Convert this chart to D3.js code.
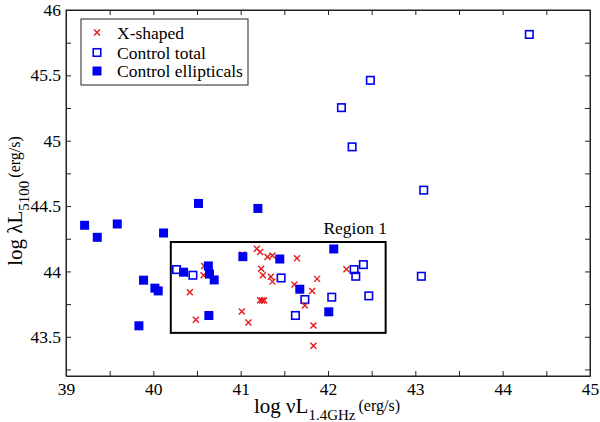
<!DOCTYPE html>
<html>
<head>
<meta charset="utf-8">
<script src="https://cdn.jsdelivr.net/npm/d3@7"></script>
<style>
  body { margin: 0; background: #fff; }
  svg text { font-family: "Liberation Serif", "DejaVu Serif", serif; fill: #000; }
</style>
</head>
<body>
<div class="scatter"></div>
<script>
// data
var xshapedX = [41.02, 41.185, 41.223, 41.307, 41.364, 41.645, 41.235, 41.254, 41.345, 41.364,
                41.616, 40.582, 40.575, 40.418, 40.487, 41.013, 41.089, 41.223, 41.246, 41.269,
                41.875, 41.818, 41.735, 42.211, 41.833, 41.833];
var xshapedY = [44.13, 44.174, 44.149, 44.111, 44.121, 44.10, 44.021, 43.971, 43.96, 43.922,
                43.90, 44.042, 43.971, 43.841, 43.63, 43.693, 43.609, 43.78, 43.777, 43.777,
                43.943, 43.851, 43.739, 44.017, 43.586, 43.431];

var totalX = [40.266, 40.453, 41.463, 41.627, 41.735, 42.043, 42.299, 42.405, 42.318, 42.467,
              43.069, 44.305, 42.485, 42.154, 42.276, 43.096];
var totalY = [44.014, 43.971, 43.95, 43.663, 43.785, 43.803, 44.014, 44.052, 43.963, 43.813,
              43.963, 45.813, 45.462, 45.253, 44.953, 44.622];

var ellX = [39.213, 39.358, 39.587, 40.517, 41.197, 40.117, 39.888, 40.018, 40.056, 39.835,
            40.346, 40.63, 40.643, 40.697, 40.636, 41.025, 41.448, 42.066, 41.677, 42.009];
var ellY = [44.353, 44.261, 44.363, 44.52, 44.482, 44.294, 43.933, 43.872, 43.851, 43.584,
            43.994, 44.042, 43.98, 43.935, 43.663, 44.113, 44.095, 44.172, 43.864, 43.691];

var xTicks = [39, 39.5, 40, 40.5, 41, 41.5, 42, 42.5, 43, 43.5, 44, 44.5, 45];
var yTicks = [43.25, 43.5, 43.75, 44, 44.25, 44.5, 44.75, 45, 45.25, 45.5, 45.75, 46];
var region = {x0: 40.2, x1: 42.66, y0: 43.53, y1: 44.225, label: "Region 1"};
var legendLabels = ["X-shaped", "Control total", "Control ellipticals"];

var margin = {top: 10, right: 10, bottom: 46, left: 66},
    width = 600 - margin.left - margin.right,
    height = 422 - margin.top - margin.bottom;

var svg = d3.select(".scatter")
  .append("svg")
  .attr("width", 600)
  .attr("height", 422)
  .append("g")
  .attr("transform", "translate(" + margin.left + "," + margin.top + ")");

var x = d3.scaleLinear().domain([39, 45]).range([0, width]);
var y = d3.scaleLinear().domain([43.2, 46]).range([height, 0]);

var blue = "#0000f0", red = "#e41a1c";

function labelX(d) { return d % 1 === 0 ? d : ""; }
function labelY(d) { return (d * 2) % 1 === 0 ? d : ""; }

// axes, ticks pointing inwards on all four sides
svg.append("g")
  .attr("transform", "translate(0," + height + ")")
  .call(d3.axisBottom(x).tickValues(xTicks).tickSizeInner(-5).tickSizeOuter(0).tickPadding(7).tickFormat(labelX));
svg.append("g")
  .call(d3.axisTop(x).tickValues(xTicks).tickSizeInner(-5).tickSizeOuter(0).tickFormat(""));
svg.append("g")
  .call(d3.axisLeft(y).tickValues(yTicks).tickSizeInner(-5).tickSizeOuter(0).tickPadding(5).tickFormat(labelY));
svg.append("g")
  .attr("transform", "translate(" + width + ",0)")
  .call(d3.axisRight(y).tickValues(yTicks).tickSizeInner(-5).tickSizeOuter(0).tickFormat(""));

svg.selectAll(".domain").attr("stroke", "#222");
svg.selectAll(".tick line").attr("stroke", "#222");
svg.selectAll(".tick text").attr("font-size", "17.5px");

// frame
svg.append("rect")
  .attr("width", width).attr("height", height)
  .attr("fill", "none").attr("stroke", "#222").attr("stroke-width", 1);

// region 1 box
svg.append("rect")
  .attr("x", x(region.x0)).attr("y", y(region.y1))
  .attr("width", x(region.x1) - x(region.x0))
  .attr("height", y(region.y0) - y(region.y1))
  .attr("fill", "none").attr("stroke", "#000").attr("stroke-width", 2);
svg.append("text")
  .attr("x", (x(region.x0) + x(region.x1)) / 2 + 77)
  .attr("y", y(region.y1) - 8)
  .attr("text-anchor", "middle")
  .attr("font-size", "17.5px")
  .text(region.label);

// control total (open squares)
var s = 7.5;
svg.selectAll("rect.total")
  .data(totalX)
  .enter()
  .append("rect")
  .attr("class", "total")
  .attr("x", function(d) { return x(d) - s / 2; })
  .attr("y", function(d, i) { return y(totalY[i]) - s / 2; })
  .attr("width", s).attr("height", s)
  .attr("fill", "none").attr("stroke", blue).attr("stroke-width", 1.6);

// x-shaped (crosses)
var c = 3;
svg.selectAll("path.xs")
  .data(xshapedX)
  .enter()
  .append("path")
  .attr("class", "xs")
  .attr("d", function(d, i) {
    var cx = x(d), cy = y(xshapedY[i]);
    return "M" + (cx - c) + "," + (cy - c) + "L" + (cx + c) + "," + (cy + c) +
           "M" + (cx - c) + "," + (cy + c) + "L" + (cx + c) + "," + (cy - c);
  })
  .attr("stroke", red).attr("stroke-width", 1.4).attr("fill", "none");

// control ellipticals (filled squares)
var f = 9;
svg.selectAll("rect.ell")
  .data(ellX)
  .enter()
  .append("rect")
  .attr("class", "ell")
  .attr("x", function(d) { return x(d) - f / 2; })
  .attr("y", function(d, i) { return y(ellY[i]) - f / 2; })
  .attr("width", f).attr("height", f)
  .attr("fill", blue);

// legend
var legend = svg.append("g").attr("transform", "translate(15,9)");
legend.append("rect")
  .attr("width", 167).attr("height", 66)
  .attr("fill", "#fff").attr("stroke", "#222").attr("stroke-width", 1);
var rowY = [13.5, 33.5, 52];
legend.append("path")
  .attr("d", "M13," + (rowY[0] - 3) + "L19," + (rowY[0] + 3) + "M13," + (rowY[0] + 3) + "L19," + (rowY[0] - 3))
  .attr("stroke", red).attr("stroke-width", 1.4);
legend.append("rect")
  .attr("x", 16 - s / 2).attr("y", rowY[1] - s / 2).attr("width", s).attr("height", s)
  .attr("fill", "none").attr("stroke", blue).attr("stroke-width", 1.6);
legend.append("rect")
  .attr("x", 16 - f / 2).attr("y", rowY[2] - f / 2).attr("width", f).attr("height", f)
  .attr("fill", blue);
legend.selectAll("text.lg")
  .data(legendLabels)
  .enter()
  .append("text")
  .attr("class", "lg")
  .attr("x", 36)
  .attr("y", function(d, i) { return rowY[i] + 6; })
  .attr("font-size", "17.5px")
  .text(function(d) { return d; });

// axis titles
var xt = svg.append("text")
  .attr("x", width / 2 - 1)
  .attr("y", height + 37)
  .attr("text-anchor", "middle")
  .attr("font-size", "21px");
xt.append("tspan").text("log \u03BDL");
xt.append("tspan").attr("dy", 7).attr("font-size", "15px").text("1.4GHz");
xt.append("tspan").attr("dy", -9).attr("dx", 3).attr("font-size", "16px").text("(erg/s)");

var yt = svg.append("text")
  .attr("transform", "translate(" + (-margin.left + 22) + "," + (height / 2 + 8) + ") rotate(-90)")
  .attr("text-anchor", "middle")
  .attr("font-size", "21px");
yt.append("tspan").text("log \u03BBL");
yt.append("tspan").attr("dy", 7).attr("font-size", "15px").text("5100");
yt.append("tspan").attr("dy", -9).attr("dx", 3).attr("font-size", "16px").text("(erg/s)");
</script>
</body>
</html>
